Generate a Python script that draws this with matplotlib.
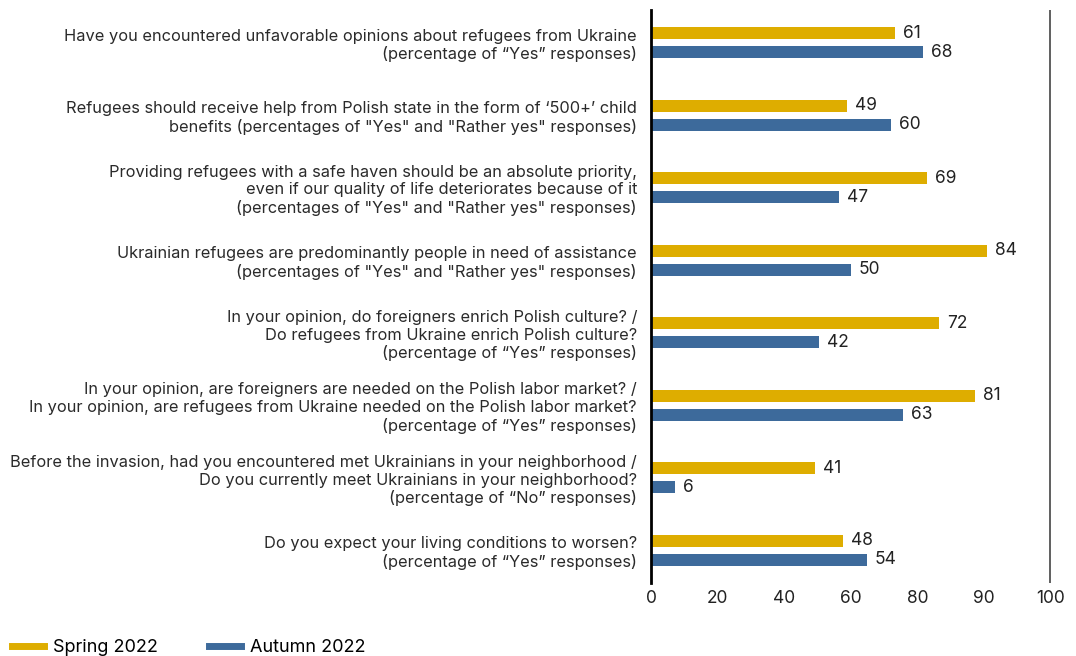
import matplotlib
matplotlib.use("Agg")
import matplotlib.pyplot as plt
from matplotlib.lines import Line2D
import numpy as np

plt.rcParams['font.family'] = ['Inter', 'DejaVu Sans']

questions = [
    "Have you encountered unfavorable opinions about refugees from Ukraine\n(percentage of \u201cYes\u201d responses)",
    "Refugees should receive help from Polish state in the form of \u2018500+\u2019 child\nbenefits (percentages of \"Yes\" and \"Rather yes\" responses)",
    "Providing refugees with a safe haven should be an absolute priority,\neven if our quality of life deteriorates because of it\n(percentages of \"Yes\" and \"Rather yes\" responses)",
    "Ukrainian refugees are predominantly people in need of assistance\n(percentages of \"Yes\" and \"Rather yes\" responses)",
    "In your opinion, do foreigners enrich Polish culture? /\nDo refugees from Ukraine enrich Polish culture?\n(percentage of \u201cYes\u201d responses)",
    "In your opinion, are foreigners are needed on the Polish labor market? /\nIn your opinion, are refugees from Ukraine needed on the Polish labor market?\n(percentage of \u201cYes\u201d responses)",
    "Before the invasion, had you encountered met Ukrainians in your neighborhood /\nDo you currently meet Ukrainians in your neighborhood?\n(percentage of \u201cNo\u201d responses)",
    "Do you expect your living conditions to worsen?\n(percentage of \u201cYes\u201d responses)",
]
spring = [61, 49, 69, 84, 72, 81, 41, 48]
autumn = [68, 60, 47, 50, 42, 63, 6, 54]
series_names = ["Spring 2022", "Autumn 2022"]
tick_labels = ["0", "20", "40", "60", "80", "90", "100"]

c_spring = "#DEAD00"
c_autumn = "#3D6A9B"

fig = plt.figure(figsize=(10.76, 6.56), dpi=100)
ax = fig.add_axes([0.605, 0.1113, 0.3717, 0.8735])

y = np.arange(len(questions))
h = 0.165
off = 0.13
b1 = ax.barh(y - off, spring, height=h, color=c_spring)
b2 = ax.barh(y + off, autumn, height=h, color=c_autumn)

for bars, vals in [(b1, spring), (b2, autumn)]:
    for bar, v in zip(bars, vals):
        ax.text(v + 2, bar.get_y() + bar.get_height() / 2, str(v),
                va='center', ha='left', fontsize=12.5, color='#222222')

ax.set_xlim(0, 100)
ax.set_ylim(7.45, -0.45)
ax.set_yticks(y)
ax.set_yticklabels(questions, fontsize=11.8, color='#2a2a2a', linespacing=1.22)
ax.set_xticks(np.linspace(0, 100, len(tick_labels)))
ax.set_xticklabels(tick_labels, fontsize=12.5, color='#222222')
ax.tick_params(axis='y', length=0, pad=10)
ax.tick_params(axis='x', length=0, pad=5)

for s in ['top', 'right', 'bottom']:
    ax.spines[s].set_visible(False)
ax.spines['left'].set_linewidth(2)
ax.spines['left'].set_color('black')
ax.axvline(99.85, color='#444444', linewidth=1.2)

handles = [Line2D([0], [0], color=c_spring, linewidth=5),
           Line2D([0], [0], color=c_autumn, linewidth=5)]
fig.legend(handles, series_names, loc='lower left', bbox_to_anchor=(-0.004, -0.025),
           ncol=2, frameon=False, fontsize=13, handlelength=1.75,
           columnspacing=2.8, handletextpad=0.55)

fig.savefig("out.png", dpi=100)
